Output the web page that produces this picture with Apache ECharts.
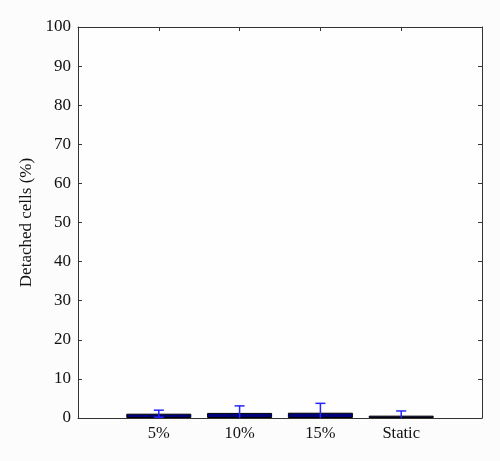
<!DOCTYPE html>
<html><head><meta charset="utf-8">
<script src="https://cdn.jsdelivr.net/npm/echarts@6/dist/echarts.min.js"></script>
<style>html,body{margin:0;padding:0;background:#fcfcfc;}#c{width:500px;height:461px;}</style>
</head><body><div id="c"></div>
<script>
const categories = ['5%', '10%', '15%', 'Static'];
const means = [1.1, 1.3, 1.35, 0.6];
const errors = [0.9, 1.8, 2.4, 1.2];
const yTicks = [0, 10, 20, 30, 40, 50, 60, 70, 80, 90, 100];

const font = '"Liberation Serif", "DejaVu Serif", serif';
const chart = echarts.init(document.getElementById('c'));
const barData = means.map((v, i) => [i + 1, v]);
const errData = means.map((v, i) => [i + 1, v - errors[i], v + errors[i]]);
const axisLine = {show: true, onZero: false, lineStyle: {color: '#333', width: 1}};
const tick = {show: true, inside: true, length: 4, lineStyle: {color: '#333'}};
chart.setOption({
  backgroundColor: '#fcfcfc',
  animation: false,
  grid: {left: 78, right: 18, top: 27, bottom: 43, show: true, backgroundColor: '#fefefe', borderWidth: 0},
  xAxis: [{
    type: 'value', min: 0, max: 5, interval: 1, position: 'bottom',
    axisLine: axisLine, axisTick: tick, splitLine: {show: false},
    axisLabel: {color: '#111', fontFamily: font, fontSize: 16.5, margin: 7,
      formatter: v => (v >= 1 && v <= categories.length) ? categories[v - 1] : ''}
  }, {
    type: 'value', min: 0, max: 5, interval: 1, position: 'top',
    axisLine: axisLine, axisTick: tick, splitLine: {show: false}, axisLabel: {show: false}
  }],
  yAxis: [{
    type: 'value', min: 0, max: 100, interval: 10, position: 'left',
    name: 'Detached cells (%)', nameLocation: 'middle', nameGap: 42,
    nameTextStyle: {color: '#111', fontFamily: font, fontSize: 17},
    axisLine: axisLine, axisTick: tick, splitLine: {show: false},
    axisLabel: {color: '#111', fontFamily: font, fontSize: 17, margin: 7,
      formatter: v => yTicks.includes(v) ? String(v) : ''}
  }, {
    type: 'value', min: 0, max: 100, interval: 10, position: 'right',
    axisLine: axisLine, axisTick: tick, splitLine: {show: false}, axisLabel: {show: false}
  }],
  series: [{
    type: 'bar', data: barData, barWidth: 65, xAxisIndex: 0, yAxisIndex: 0,
    itemStyle: {color: '#00007a', borderColor: '#000', borderWidth: 1}
  }, {
    type: 'custom', xAxisIndex: 0, yAxisIndex: 0, z: 10, clip: true,
    data: errData,
    renderItem: function (params, api) {
      const x = api.value(0);
      const lo = api.coord([x, api.value(1)]);
      const hi = api.coord([x, api.value(2)]);
      const hw = 5;
      const st = {stroke: '#2626ff', lineWidth: 1.5};
      return {type: 'group', children: [
        {type: 'line', shape: {x1: hi[0], y1: hi[1], x2: lo[0], y2: lo[1]}, style: st},
        {type: 'line', shape: {x1: hi[0] - hw, y1: hi[1], x2: hi[0] + hw, y2: hi[1]}, style: st},
        {type: 'line', shape: {x1: lo[0] - hw, y1: lo[1], x2: lo[0] + hw, y2: lo[1]}, style: st}
      ]};
    }
  }]
});
</script></body></html>
